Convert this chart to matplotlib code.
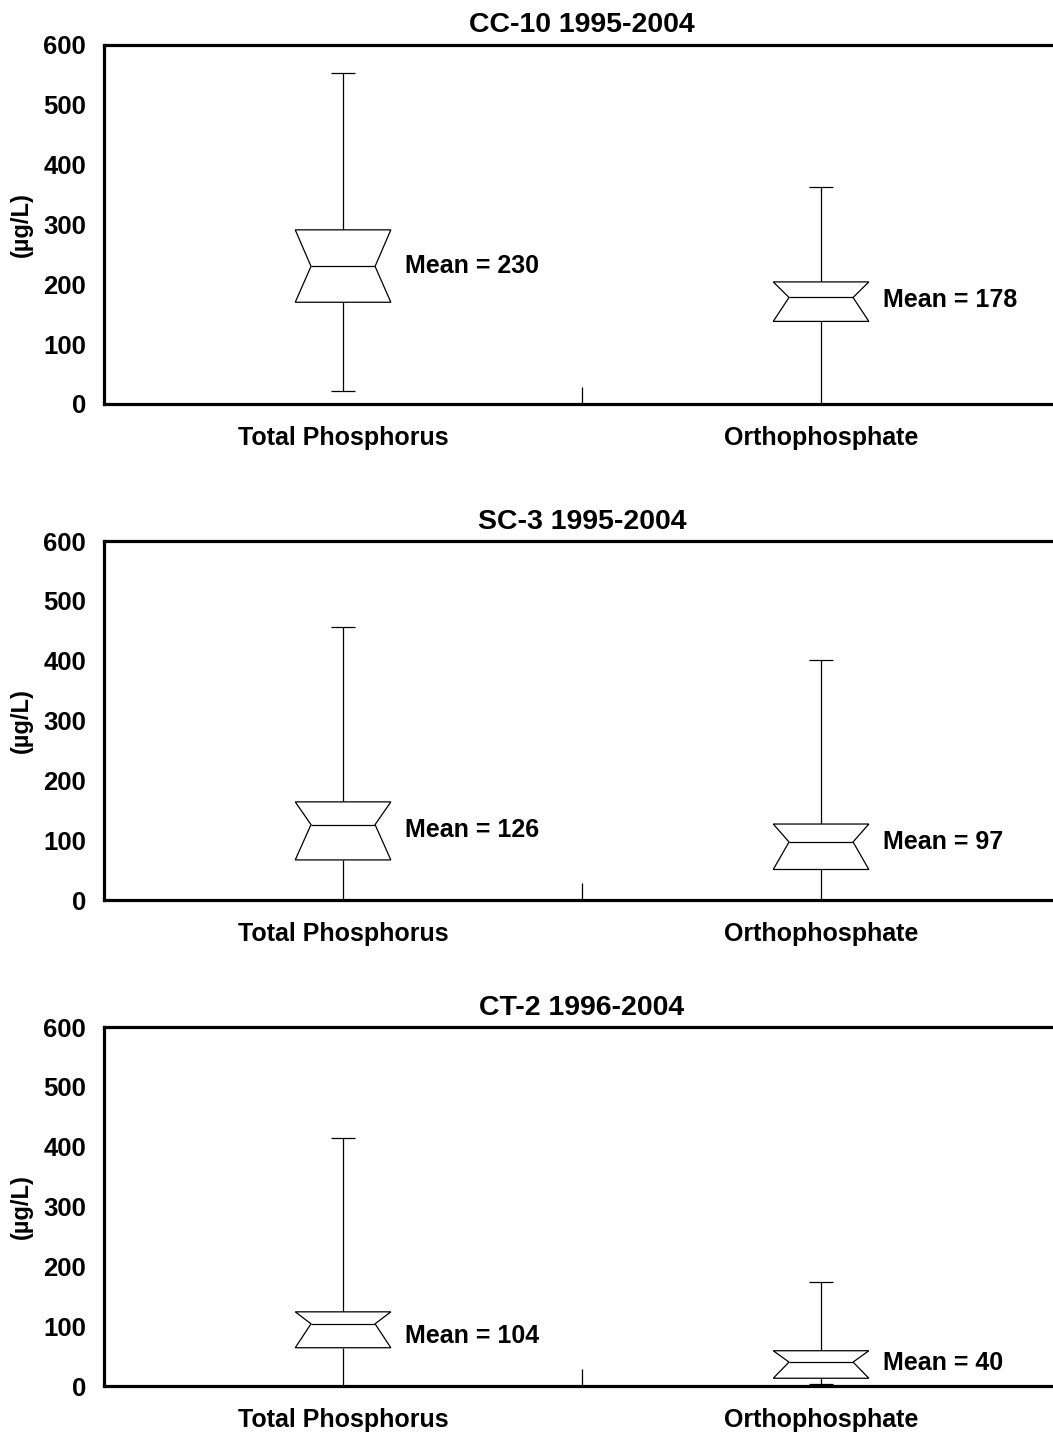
"""
Notched box plots of total phosphorus and orthophosphate at three stations.
"""
import matplotlib
matplotlib.use("Agg")
import matplotlib.pyplot as plt

plt.rcParams["font.family"] = ["Liberation Sans", "DejaVu Sans"]
plt.rcParams["font.weight"] = "bold"

# Data (ug/L)
stations = ["CC-10 1995-2004", "SC-3 1995-2004", "CT-2 1996-2004"]
parameters = ["Total Phosphorus", "Orthophosphate"]

whisker_low = [[22, 0], [0, 0], [0, 3]]
quartile_low = [[170, 138], [67, 51], [64, 13]]
means = [[230, 178], [126, 97], [104, 40]]
quartile_high = [[291, 204], [164, 127], [124, 59]]
whisker_high = [[553, 363], [457, 401], [415, 174]]

# Layout (figure fractions) and styling
panel_bottoms = [0.7179, 0.3715, 0.0321]
panel_height = 0.2507
ax_left, ax_width = 0.0988, 0.9079
box_w = 0.2      # full box width in category units
notch_w = 0.134  # width at the notch waist
cap_w = 0.05
line_kw = dict(color="black", lw=0.9)
# small vertical nudges (points) of the "Mean =" labels, as placed in the original
label_dy = [[0, -2], [-4, 0], [-9, -1]]

fig = plt.figure(figsize=(10.53, 14.32), dpi=100)

for p, station in enumerate(stations):
    ax = fig.add_axes([ax_left, panel_bottoms[p], ax_width, panel_height])
    positions = [1, 2]

    for i, x in enumerate(positions):
        lo, q1, m, q3, hi = (whisker_low[p][i], quartile_low[p][i], means[p][i],
                             quartile_high[p][i], whisker_high[p][i])
        # whiskers and caps
        ax.vlines(x, lo, q1, **line_kw, zorder=2)
        ax.vlines(x, q3, hi, **line_kw, zorder=2)
        ax.hlines([lo, hi], x - cap_w / 2, x + cap_w / 2, **line_kw, zorder=2)
        # notched box (hourglass: notch runs from each quartile to the mean)
        xs = [x - box_w / 2, x + box_w / 2, x + notch_w / 2, x + box_w / 2,
              x - box_w / 2, x - notch_w / 2, x - box_w / 2]
        ys = [q1, q1, m, q3, q3, m, q1]
        ax.fill(xs, ys, facecolor="white", edgecolor="black", lw=0.9, zorder=3)
        ax.hlines(m, x - notch_w / 2, x + notch_w / 2, **line_kw, zorder=3)
        ax.annotate(f"Mean = {m}", xy=(x + box_w / 2, m),
                    xytext=(10, label_dy[p][i]), textcoords="offset points",
                    ha="left", va="center", fontsize=18, fontweight="bold")

    ax.set_xlim(0.5, 2.5)
    ax.set_ylim(0, 600)
    ax.set_yticks(range(0, 601, 100))
    ax.set_xticks(positions)
    ax.set_xticklabels(parameters)
    ax.set_xticks([1.5], minor=True)
    ax.tick_params(axis="x", which="major", length=0, pad=16, labelsize=18)
    ax.tick_params(axis="x", which="minor", direction="in", length=12.5, width=0.9)
    ax.tick_params(axis="y", length=0, pad=13, labelsize=18.5)
    for lab in ax.get_xticklabels() + ax.get_yticklabels():
        lab.set_fontweight("bold")

    for side in ["left", "top", "bottom"]:
        ax.spines[side].set_linewidth(2.3)
    ax.spines["right"].set_visible(False)

    ax.set_ylabel("(\u00b5g/L)", fontsize=17, fontweight="bold")
    ax.yaxis.set_label_coords(-0.074, 0.5)
    ax.set_title(station, fontsize=20.5, fontweight="bold", pad=9)

fig.savefig("out.png", dpi=100)
